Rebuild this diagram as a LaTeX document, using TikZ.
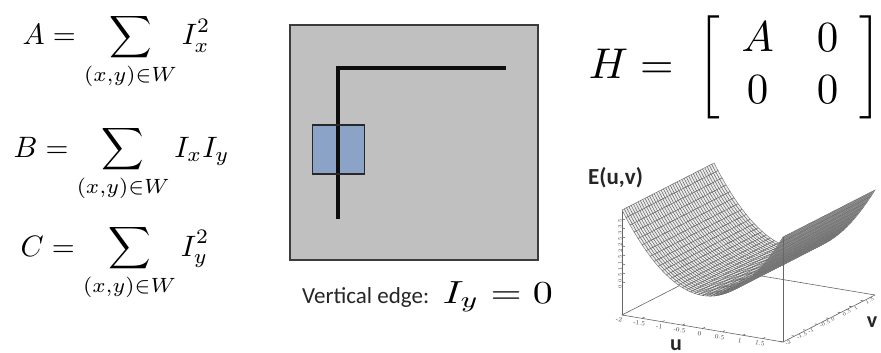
\documentclass[tikz,border=0pt]{standalone}
\usepackage{fontspec}
\newfontfamily\carl{Carlito}
\definecolor{panelgray}{RGB}{192,192,192}
\definecolor{panelborder}{RGB}{60,60,60}
\definecolor{winblue}{RGB}{138,163,198}
\definecolor{winborder}{RGB}{40,40,40}
\newcommand\setpt[4]{%
  \pgfmathsetmacro\tmpx{748.5+40.25*(#2)+23*(#3)}%
  \pgfmathsetmacro\tmpy{272+6.75*(#2)-11.75*(#3)-18*(#4)}%
  \coordinate (#1) at (\tmpx,\tmpy);}
\def\zf{-1.8333}
\begin{document}
\begin{tikzpicture}[x=1pt,y=-1pt,
  eq/.style={anchor=base west,inner sep=0pt},
  lbl/.style={anchor=base west,inner sep=0pt,text=black!85,font=\carl\fontsize{23}{25}\selectfont},
  axlbl/.style={inner sep=0pt,text=black!85,font=\carl\bfseries\fontsize{22}{24}\selectfont},
  boxline/.style={draw=gray!80!black,line width=0.6pt},
  ticklbl/.style={inner sep=0pt,text=black!75,font=\fontsize{6.5}{7}\selectfont},
  vticklbl/.style={inner sep=0pt,text=black!75,font=\fontsize{5}{5.5}\selectfont},
  front/.style={fill=black!8,draw=black!60,line width=0.4pt},
  back/.style={fill=black!38,draw=black!55,line width=0.4pt}]
\useasboundingbox (0,0) rectangle (881,353);
\fill[white] (0,0) rectangle (881,353);

% left formulas
\node[eq,scale=2.95] (fa) at (22,45) {$\displaystyle A=\sum_{(x,y)\in W} I_x^2$};
\node[eq,scale=2.95] (fb) at (13,157) {$\displaystyle B=\sum_{(x,y)\in W} I_xI_y$};
\node[eq,scale=2.95] (fc) at (20,256) {$\displaystyle C=\sum_{(x,y)\in W} I_y^2$};

% middle panel
\draw[fill=panelgray,draw=panelborder,line width=1.8pt] (290,25) rectangle (538,260);
\fill[winblue] (312.3,125) rectangle (364.3,174);
\draw[line width=4pt,black!95,line join=miter] (338.3,219) -- (338.3,68.3) -- (506,68.3);
\draw[winborder,line width=1.3pt] (312.3,125) rectangle (364.3,174);
\node[lbl] (ve) at (302,303) {Vertical edge:};
\node[eq,xscale=4.0,yscale=3.2] (iy) at (442,303) {$I_y=0$};

% matrix
\node[eq,scale=4.3] (hm) at (588,78) {$H=\;\left[\begin{array}{cc}A&0\\0&0\end{array}\right]$};

% plot: floor back lines
\setpt{L}{-2}{-2}{\zf}
\setpt{F}{2}{-2}{\zf}
\setpt{R}{2}{2}{\zf}
\setpt{B}{-2}{2}{\zf}
\setpt{Lt}{-2}{-2}{4}
\setpt{Ft}{2}{-2}{4}
\draw[boxline] (L) -- (B) -- (R);
\draw[boxline] (L) -- (Lt);
\foreach \t in {0,0.5,1,1.5,2,2.5,3,3.5,4}{
  \setpt{ta}{-2}{-2}{\t}
  \setpt{tb}{-1.93}{-2}{\t}
  \draw[boxline] (ta) -- (tb);
}
\foreach \t in {0,0.5,1,1.5,2,2.5,3,3.5}{
  \setpt{ta}{-2}{-2}{\t}
  \node[vticklbl,rotate=90,anchor=south,xshift=-5pt] at (ta) {\t};
}

% surface (painter's order: increasing u)
\foreach \i in {0,...,39}{
  \pgfmathsetmacro\ua{-2+0.1*\i}
  \pgfmathsetmacro\ub{-2+0.1*(\i+1)}
  \pgfmathsetmacro\za{\ua*\ua}
  \pgfmathsetmacro\zb{\ub*\ub}
  \ifnum\i<28 \def\sty{front}\else\def\sty{back}\fi
  \foreach \j in {0,...,39}{
    \pgfmathsetmacro\va{-2+0.1*\j}
    \pgfmathsetmacro\vb{-2+0.1*(\j+1)}
    \setpt{q1}{\ua}{\va}{\za}
    \setpt{q2}{\ub}{\va}{\zb}
    \setpt{q3}{\ub}{\vb}{\zb}
    \setpt{q4}{\ua}{\vb}{\za}
    \filldraw[\sty] (q1) -- (q2) -- (q3) -- (q4) -- cycle;
  }
}

% front box lines
\draw[boxline] (L) -- (F) -- (R);
\draw[boxline] (F) -- (Ft);
\foreach \t in {-2,-1.5,-1,-0.5,0,0.5,1,1.5}{
  \setpt{ta}{\t}{-2}{\zf}
  \setpt{tb}{\t}{-1.9}{\zf}
  \draw[boxline] (ta) -- (tb);
  \node[ticklbl,rotate=-9.5,anchor=north,yshift=-3pt,xshift=-2pt] at (ta) {\t};
}
\foreach \t in {-2,-1.5,-1,-0.5,0,0.5,1,1.5}{
  \setpt{ta}{2}{\t}{\zf}
  \setpt{tb}{1.93}{\t}{\zf}
  \draw[boxline] (ta) -- (tb);
  \node[vticklbl,rotate=27,anchor=north west,xshift=1pt,yshift=-1pt] at (ta) {\t};
}

\node[anchor=base west,inner sep=0pt,text=black!85,font=\carl\bfseries\fontsize{23}{25}\selectfont] (E) at (588,184) {E(u,v)};
\node[axlbl,anchor=base] (ul) at (676,350) {u};
\node[axlbl,anchor=base] (vl) at (872,327) {v};
\end{tikzpicture}
\end{document}
